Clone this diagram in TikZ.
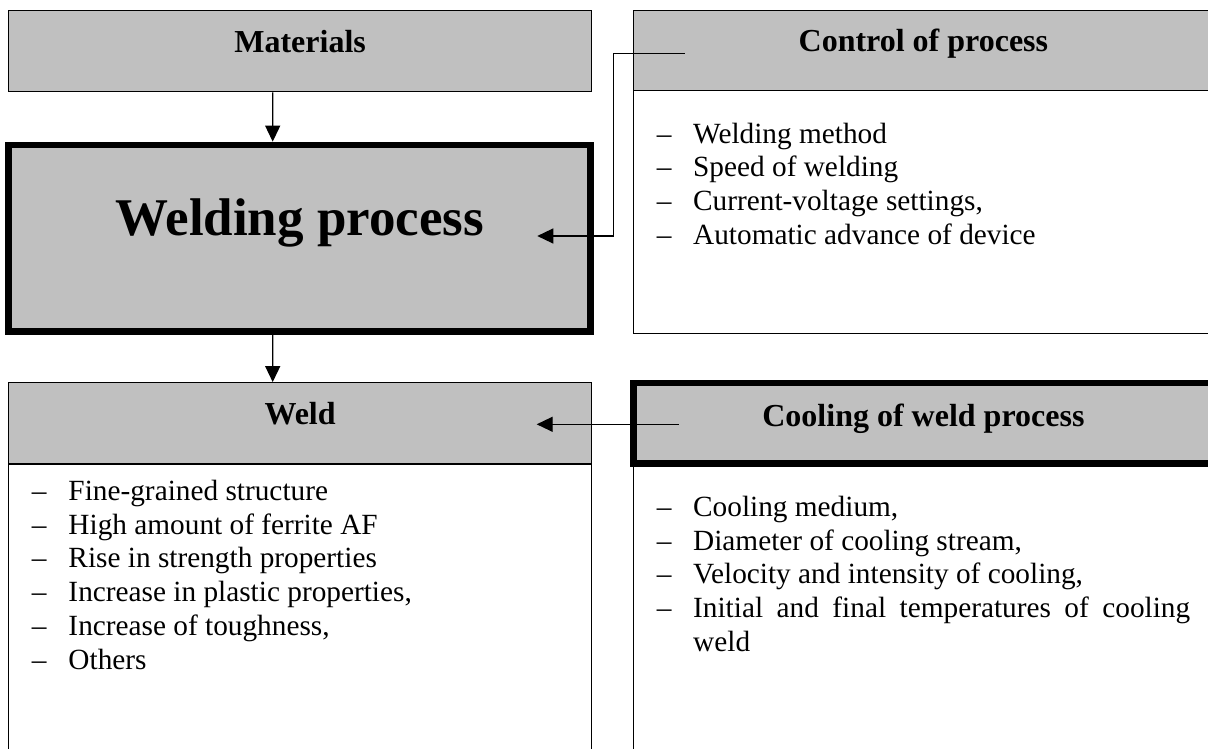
\documentclass[tikz,border=0pt]{standalone}
\usepackage{fontspec}
\setmainfont{Liberation Serif}
\usetikzlibrary{arrows.meta}

\definecolor{boxgray}{RGB}{192,192,192}

\tikzset{
  box/.style={draw, line width=1.2pt, minimum width=583.2pt, inner sep=0pt},
  headbox/.style={box, fill=boxgray, text height=2pt, text depth=0pt,
    font=\bfseries\fontsize{32}{38}\selectfont},
  thickbox/.style={line width=6.7pt},
  bodybox/.style={box, fill=white},
  listtext/.style={inner sep=0pt, anchor=base west,
    font=\fontsize{29.3}{33.7}\selectfont},
  arr/.style={line width=1.3pt, -{Triangle[length=16pt,width=15pt]}}
}

\begin{document}
\begin{tikzpicture}[x=1pt,y=-1pt]
\useasboundingbox (0,0) rectangle (1208,749);

% Define the boxes on the left
\node[headbox, minimum height=81pt] (mat) at (300.1,51.2) {Materials};
\node[headbox, thickbox, minimum width=582pt, minimum height=186.7pt,
  text height=0pt, text depth=6.7pt,
  font=\bfseries\fontsize{53}{60}\selectfont] (weldp) at (299.7,238.35) {Welding process};
\node[bodybox, minimum height=301pt] (weldB) at (300.1,614.5) {};
\node[headbox, minimum height=81.3pt] (weldH) at (300.1,423.35) {Weld};

% Define the boxes on the right
\node[bodybox, minimum width=580.2pt, minimum height=242.6pt] (ctrlB) at (923.4,212) {};
\node[headbox, minimum width=580.2pt, minimum height=80pt] (ctrlH) at (923.4,50.7) {Control of process};
\node[bodybox, minimum width=580.2pt, minimum height=301.3pt] (coolB) at (923.4,614.35) {};
\node[headbox, thickbox, minimum width=580.2pt, minimum height=80.7pt,
  text height=7pt] (coolH) at (923.4,423.35) {Cooling of weld process};

% The lists
\node[listtext] (ctrlL) at (656.7,143.3) {\begin{tabular}[t]{@{}p{36.3pt}@{}l@{}}
– & Welding method\\
– & Speed of welding\\
– & Current-voltage settings,\\
– & Automatic advance of device
\end{tabular}};
\node[listtext] (weldL) at (31.7,500.5) {\begin{tabular}[t]{@{}p{36.6pt}@{}l@{}}
– & Fine-grained structure\\
– & High amount of ferrite AF\\
– & Rise in strength properties\\
– & Increase in plastic properties,\\
– & Increase of toughness,\\
– & Others
\end{tabular}};
\node[listtext] (coolL) at (656.7,516.3) {\begin{tabular}[t]{@{}p{36.3pt}@{}l@{}}
– & Cooling medium,\\
– & Diameter of cooling stream,\\
– & Velocity and intensity of cooling,\\
– & \makebox[497pt][s]{Initial and final temperatures of cooling}\\
  & weld
\end{tabular}};

% Draw the connectors
\draw[arr] ([xshift=-27.4pt]mat.south) -- ([xshift=-27pt]weldp.north);
\draw[arr] ([xshift=-27pt]weldp.south) -- ([xshift=-27.4pt]weldH.north);
\draw[arr] ([shift={(51.8,2.6)}]ctrlH.west) -- ++(-71.2,0)
  |- ([shift={(-56.75,-2.35)}]weldp.east);
\draw[arr] ([shift={(49,0.95)}]coolH.west) -- ([shift={(-55.6,0.95)}]weldH.east);

\end{tikzpicture}
\end{document}
